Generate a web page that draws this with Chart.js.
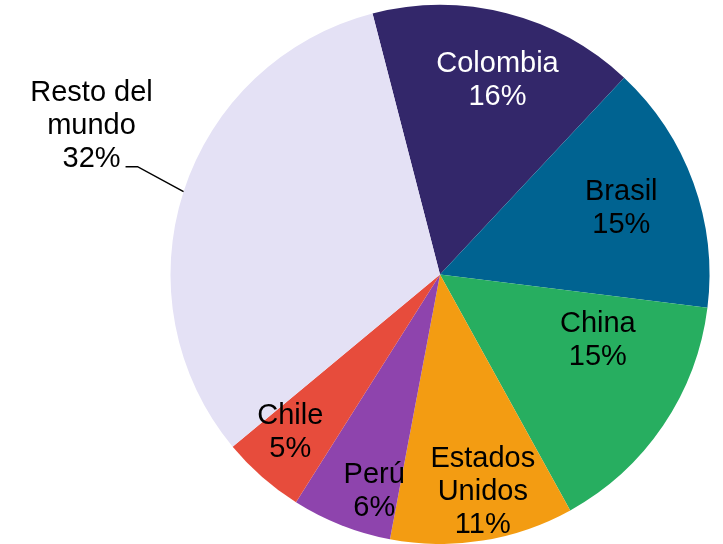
<!DOCTYPE html>
<html>
<head>
<meta charset="utf-8">
<script src="https://cdn.jsdelivr.net/npm/chart.js@4.4.0/dist/chart.umd.min.js"></script>
<style>
  html, body { margin: 0; padding: 0; background: #fff; }
</style>
</head>
<body>
<canvas id="pie" width="723" height="544"></canvas>
<script>
// origen de las importaciones, % del total
const countries = ["Colombia", "Brasil", "China", "Estados Unidos", "Perú", "Chile", "Resto del mundo"];
const labelLines = [["Colombia"], ["Brasil"], ["China"], ["Estados", "Unidos"], ["Perú"], ["Chile"], ["Resto del", "mundo"]];
const shares = [16, 15, 15, 11, 6, 5, 32];

const sliceColors = ["#33276a", "#006391", "#27ae60", "#f39c12", "#8e44ad", "#e74c3c", "#e4e1f5"];

// where each label sits: fraction of radius + small turn (deg) off the slice middle
const placement = [
  { r: 0.76, turn: 2, color: "#fff" },
  { r: 0.72, turn: -1, color: "#000" },
  { r: 0.63, turn: -12.5, color: "#000" },
  { r: 0.81, turn: -2.2, color: "#000" },
  { r: 0.83, turn: -4.4, color: "#000" },
  { r: 0.80, turn: 2.7, color: "#000" },
  { outside: true, color: "#000" }
];

const sliceLabels = {
  id: "sliceLabels",
  afterDatasetsDraw(chart) {
    const ctx = chart.ctx;
    const meta = chart.getDatasetMeta(0);
    ctx.save();
    ctx.font = "29px 'Liberation Sans', Arial, sans-serif";
    ctx.textAlign = "center";
    ctx.textBaseline = "middle";
    meta.data.forEach((arc, i) => {
      const p = arc.getProps(["x", "y", "startAngle", "endAngle", "outerRadius"], true);
      const mid = (p.startAngle + p.endAngle) / 2;
      const place = placement[i];
      const lines = [...labelLines[i], shares[i] + "%"];
      let cx, cy;
      if (place.outside) {
        const ex = p.x + Math.cos(mid) * p.outerRadius;
        const ey = p.y + Math.sin(mid) * p.outerRadius;
        ctx.strokeStyle = "#000";
        ctx.lineWidth = 1.5;
        ctx.beginPath();
        ctx.moveTo(ex, ey);
        ctx.lineTo(ex - 46, ey - 25);
        ctx.lineTo(ex - 58, ey - 25);
        ctx.stroke();
        cx = ex - 92;
        cy = ey - 69;
      } else {
        const a = mid + place.turn * Math.PI / 180;
        const r = p.outerRadius * place.r;
        cx = p.x + Math.cos(a) * r;
        cy = p.y + Math.sin(a) * r;
      }
      ctx.fillStyle = place.color;
      const h = 33;
      lines.forEach((t, k) => {
        ctx.fillText(t, cx, cy + 3 + (k - (lines.length - 1) / 2) * h);
      });
    });
    ctx.restore();
  }
};

new Chart(document.getElementById("pie"), {
  type: "pie",
  data: {
    labels: countries,
    datasets: [{
      data: shares,
      backgroundColor: sliceColors,
      borderWidth: 0,
      offset: 0,
      hoverOffset: 0
    }]
  },
  options: {
    responsive: false,
    animation: false,
    rotation: -14.5,
    layout: { padding: { left: 170, right: 13, top: 5, bottom: 0 } },
    plugins: {
      legend: { display: false },
      tooltip: { enabled: false }
    }
  },
  plugins: [sliceLabels]
});
</script>
</body>
</html>
